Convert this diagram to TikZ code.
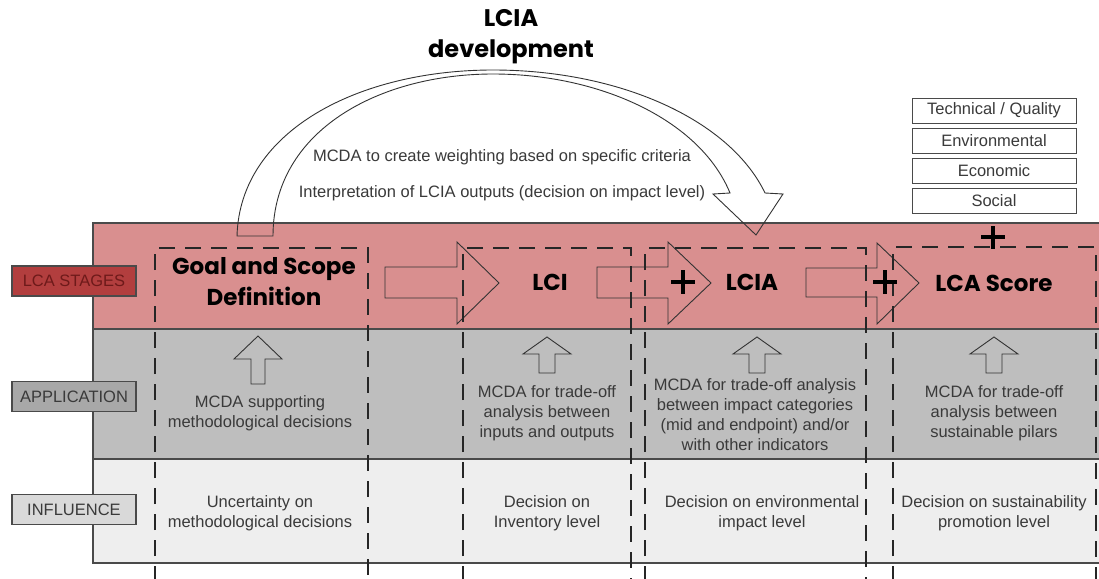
\documentclass[tikz,border=0pt]{standalone}
\usepackage{fontspec}
\setmainfont{Liberation Sans}
\newfontfamily\geofont{Poppins}
\definecolor{bandred}{HTML}{D98F8F}
\definecolor{bandgray}{HTML}{BEBEBE}
\definecolor{bandlight}{HTML}{EEEEEE}
\definecolor{lblred}{HTML}{B23E3E}
\definecolor{lblredtext}{HTML}{6E1A1A}
\definecolor{lblgray}{HTML}{A8A8A8}
\definecolor{lbllight}{HTML}{D9D9D9}
\definecolor{txt}{HTML}{3A3A3A}
\definecolor{edge}{HTML}{4A4A4A}
\begin{document}
\begin{tikzpicture}[x=1pt,y=-1pt,
  body/.style={font=\fontsize{16.5}{20}\selectfont, text=txt, align=center, inner sep=0pt},
  stagetext/.style={font=\geofont\bfseries\fontsize{23}{31}\selectfont, text=black, align=center, inner sep=0pt},
  titletext/.style={font=\geofont\bfseries\fontsize{24}{31}\selectfont, text=black, align=center, inner sep=0pt},
  rowlabel/.style={draw=edge, line width=1.2pt, minimum width=124pt, minimum height=30pt, inner sep=0pt, font=\fontsize{16.5}{20}\selectfont},
  pillar/.style={draw=edge, line width=1pt, minimum width=164pt, minimum height=25pt, inner sep=0pt, font=\fontsize{16.5}{20}\selectfont, text=txt},
  blockarrow/.style={draw=black!80, line width=0.9pt},
  colline/.style={draw=black!85, line width=1.4pt, dash pattern=on 16pt off 10pt},
  rule/.style={draw=edge, line width=1.4pt},
  plussign/.style={draw=black, line width=3.4pt}
]
\useasboundingbox (0,0) rectangle (1099,578);
\fill[white] (0,0) rectangle (1099,578);

% bands
\fill[bandred] (93,223) rectangle (1099,329);
\fill[bandgray] (93,329) rectangle (1099,459);
\fill[bandlight] (93,459) rectangle (1099,563);
\draw[rule] (1099,223) -- (93,223) -- (93,563) -- (1099,563);
\draw[rule] (93,329) -- (1099,329);
\draw[rule] (93,459) -- (1099,459);

% row labels
\node[rowlabel, fill=lblred, text=lblredtext] (lstages) at (74,281) {LCA STAGES};
\node[rowlabel, fill=lblgray, text=txt] (lapp) at (74,396.5) {APPLICATION};
\node[rowlabel, fill=lbllight, text=txt] (linf) at (74,509.5) {INFLUENCE};

% pillars
\node[pillar] (p1) at (994,110.5) {Technical / Quality};
\node[pillar] (p2) at (994,140.5) {Environmental};
\node[pillar] (p3) at (994,171) {Economic};
\node[pillar] (p4) at (994,200.5) {Social};

% big curved arrow
\draw[blockarrow] (237,236) .. controls (240,130) and (360,70) .. (493,70)
  .. controls (620,70) and (730,120) .. (765,193) -- (783,194) -- (756,235) -- (713,194) -- (730,193)
  .. controls (700,120) and (600,74) .. (493,74)
  .. controls (380,74) and (273,130) .. (273,236) -- cycle;

% horizontal block arrows
\draw[blockarrow] (385,267) -- (457,267) -- (457,242) -- (499,283) -- (457,324) -- (457,298) -- (385,298) -- cycle;
\draw[blockarrow] (597,267) -- (668,267) -- (668,242) -- (711,283) -- (668,324) -- (668,298) -- (597,298) -- cycle;
\draw[blockarrow] (806,268) -- (877,268) -- (877,243) -- (919,283) -- (877,324) -- (877,297) -- (806,297) -- cycle;

% up arrows
\draw[blockarrow] (258,336) -- (282,359) -- (265,359) -- (265,384) -- (251,384) -- (251,359) -- (234,359) -- cycle;
\draw[blockarrow] (547,337) -- (571,354) -- (555,354) -- (555,373) -- (539,373) -- (539,354) -- (523,354) -- cycle;
\draw[blockarrow] (757,337) -- (781,354) -- (765,354) -- (765,373) -- (749,373) -- (749,354) -- (733,354) -- cycle;
\draw[blockarrow] (994,337) -- (1018,354) -- (1002,354) -- (1002,373) -- (986,373) -- (986,354) -- (970,354) -- cycle;

% dashed stage columns
\draw[colline] (155,582) -- (155,248) -- (368,248) -- (368,582);
\draw[colline] (463,582) -- (463,248) -- (631,248) -- (631,582);
\draw[colline] (645,582) -- (645,248) -- (866,248) -- (866,582);
\draw[colline] (893,582) -- (893,247) -- (1096,247) -- (1096,582);

% plus signs
\draw[plussign] (671,282) -- (695,282) (683,270) -- (683,294);
\draw[plussign] (873,282) -- (897,282) (885,270) -- (885,294);
\draw[plussign] (981,237) -- (1005,237) (993,226) -- (993,249);

% titles
\node[titletext] (dev) at (511,37) {LCIA\\development};
\node[body] (arc1) at (502,157) {MCDA to create weighting based on specific criteria};
\node[body] (arc2) at (502,193) {Interpretation of LCIA outputs (decision on impact level)};

% stage names
\node[stagetext] (goal) at (264,282) {Goal and Scope\\Definition};
\node[stagetext] (lci) at (550,282) {LCI};
\node[stagetext] (lcia) at (752,282) {LCIA};
\node[stagetext] (score) at (994,283) {LCA Score};

% application texts
\node[body] (a1) at (260,413) {MCDA supporting\\methodological decisions};
\node[body] (a2) at (547,413) {MCDA for trade-off\\analysis between\\inputs and outputs};
\node[body] (a3) at (755,415) {MCDA for trade-off analysis\\between impact categories\\(mid and endpoint) and/or\\with other indicators};
\node[body] (a4) at (994,413) {MCDA for trade-off\\analysis between\\sustainable pilars};

% influence texts
\node[body] (i1) at (260,513) {Uncertainty on\\methodological decisions};
\node[body] (i2) at (547,513) {Decision on\\Inventory level};
\node[body] (i3) at (762,513) {Decision on environmental\\impact level};
\node[body] (i4) at (994,513) {Decision on sustainability\\promotion level};
\end{tikzpicture}
\end{document}
